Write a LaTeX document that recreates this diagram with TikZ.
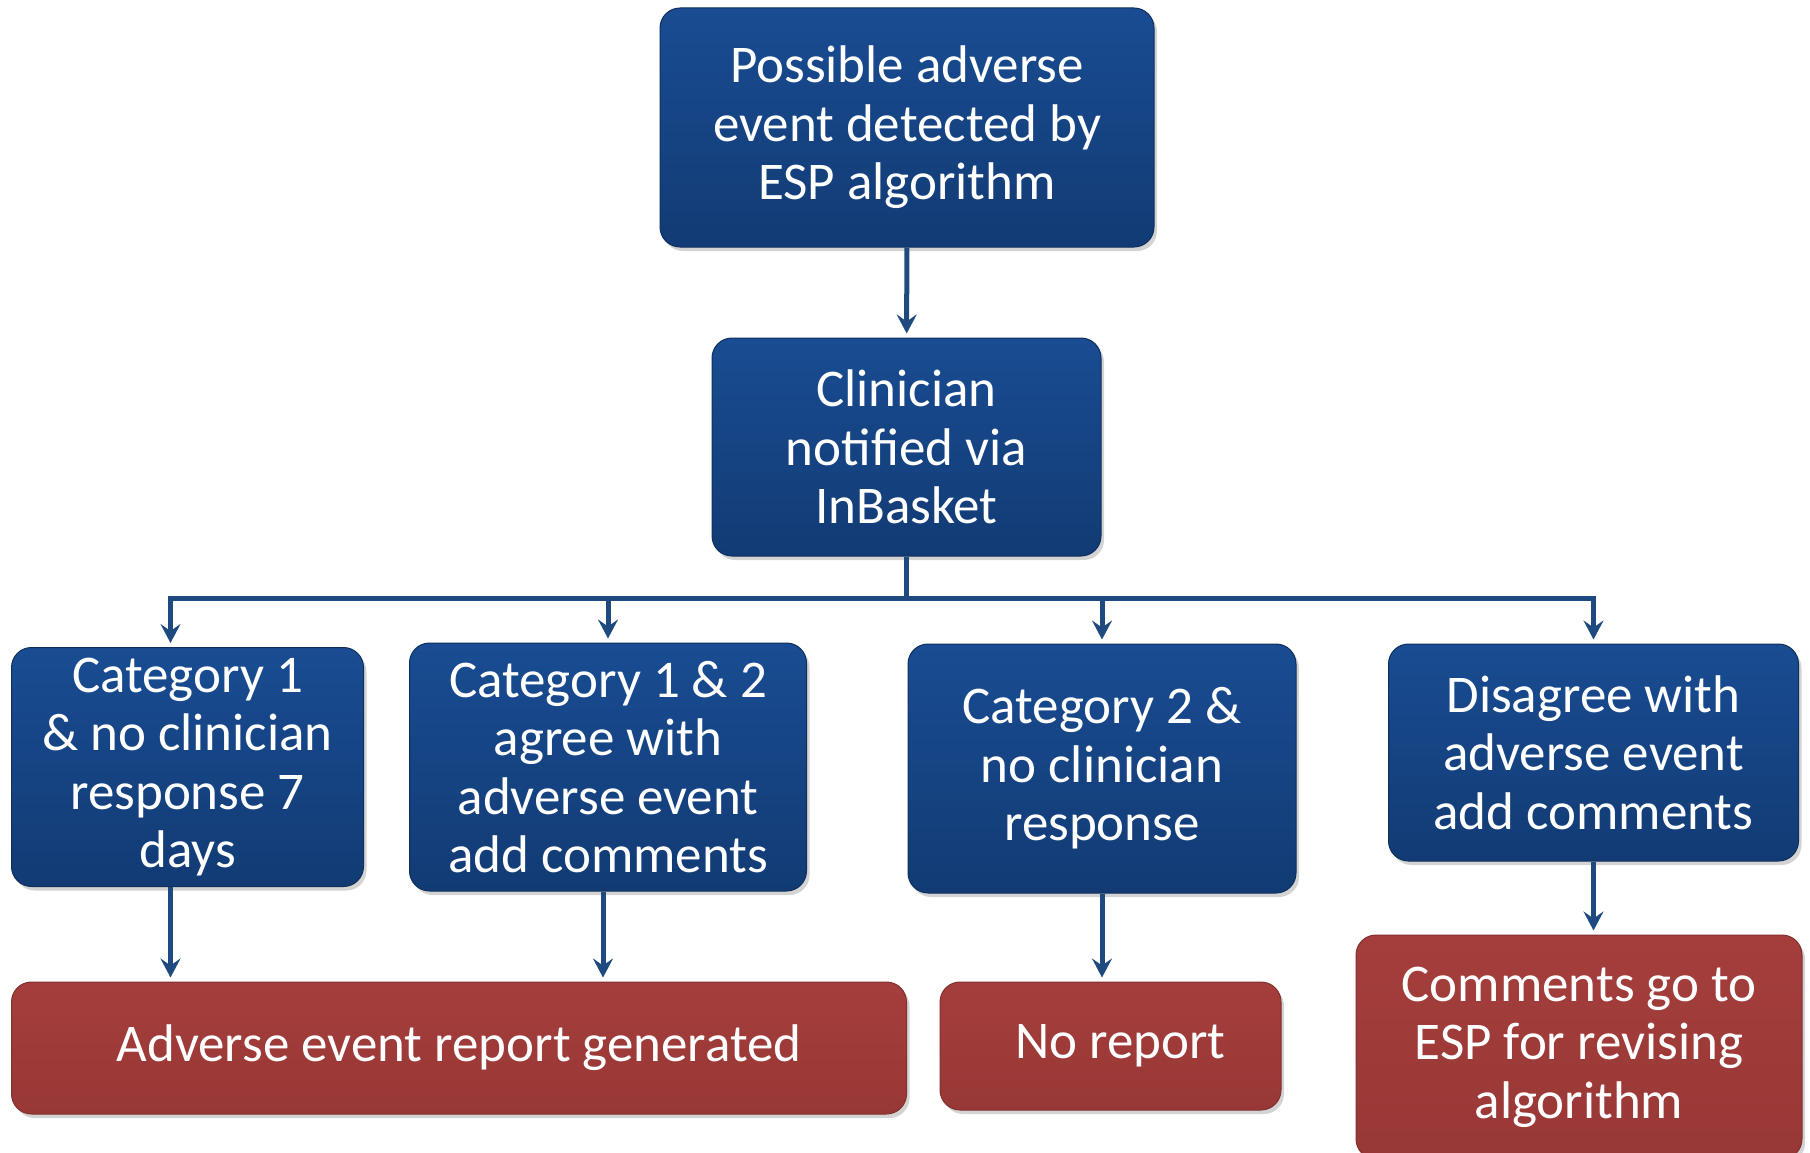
\documentclass[tikz,border=0pt]{standalone}
\usepackage{fontspec}
\setmainfont{Carlito}
\usetikzlibrary{arrows.meta,shadows}
\definecolor{boxblue}{HTML}{194C92}
\definecolor{boxbluedark}{HTML}{123B74}
\definecolor{lineblue}{HTML}{1F4A80}
\definecolor{boxred}{HTML}{A43E3C}
\definecolor{boxreddark}{HTML}{983836}
\begin{document}
\begin{tikzpicture}
        [x=1pt,y=-1pt,
        box/.style={rounded corners=20pt,align=center,text=white,inner sep=0pt,
          font=\fontsize{53}{58.5}\selectfont,
          drop shadow={opacity=0.35,shadow xshift=3pt,shadow yshift=-4pt}},
        bluebox/.style={box,draw=boxbluedark!80!black,line width=1pt,top color=boxblue,bottom color=boxbluedark},
        redbox/.style={box,draw=boxreddark!85!black,line width=1pt,top color=boxred,bottom color=boxreddark},
        arr/.style={-{Stealth[length=19pt,width=20pt,inset=7pt]},line width=5pt,draw=lineblue,shorten >=4pt},
        bus/.style={line width=4.5pt,draw=lineblue}]
        \useasboundingbox (0,0) rectangle (1810,1153);
        \node (top) at (907,127.5) [bluebox,minimum width=494pt,minimum height=239pt] {Possible adverse\\event detected by\\ESP algorithm};
        \node (clin) at (906.5,447) [bluebox,minimum width=389pt,minimum height=218pt] {Clinician\\notified via\\InBasket};
        \node (cat1) at (187.5,767) [bluebox,minimum width=352pt,minimum height=239pt] {Category 1\\\& no clinician\\response 7\\days};
        \node (cat12) at (608,767) [bluebox,minimum width=397pt,minimum height=248pt] {Category 1 \& 2\\agree with\\adverse event\\add comments};
        \node (cat2) at (1102,768.5) [bluebox,minimum width=388pt,minimum height=249pt] {Category 2 \&\\no clinician\\response};
        \node (dis) at (1593.5,752.5) [bluebox,minimum width=410pt,minimum height=217pt] {Disagree with\\adverse event\\add comments};
        \node (rep) at (459,1048) [redbox,minimum width=895pt,minimum height=132pt] {Adverse event report generated};
        \node (norep) at (1110.5,1046) [redbox,minimum width=341pt,minimum height=128pt] {\hspace*{20pt}No report};
        \node (esp) at (1579,1047) [redbox,minimum width=446pt,minimum height=224pt] {Comments go to\\ESP for revising\\algorithm};
        \coordinate (split) at (906.5,598);
        % connectors
        \draw [arr] (top) -- (clin);
        \draw [bus] (clin.south) -- (split);
        \draw [arr] (split) -| ([xshift=-17pt]cat1.north);
        \draw [arr] (split) -| (cat12.north);
        \draw [arr] (split) -| (cat2.north);
        \draw [arr] (split) -| (dis.north);
        \draw [arr] ([xshift=-17pt]cat1.south) -- ([xshift=-17pt]cat1.south |- rep.north);
        \draw [arr] ([xshift=-5pt]cat12.south) -- ([xshift=-5pt]cat12.south |- rep.north);
        \draw [arr] (cat2.south) -- (cat2.south |- norep.north);
        \draw [arr] (dis.south) -- (dis.south |- esp.north);
\end{tikzpicture}
\end{document}
